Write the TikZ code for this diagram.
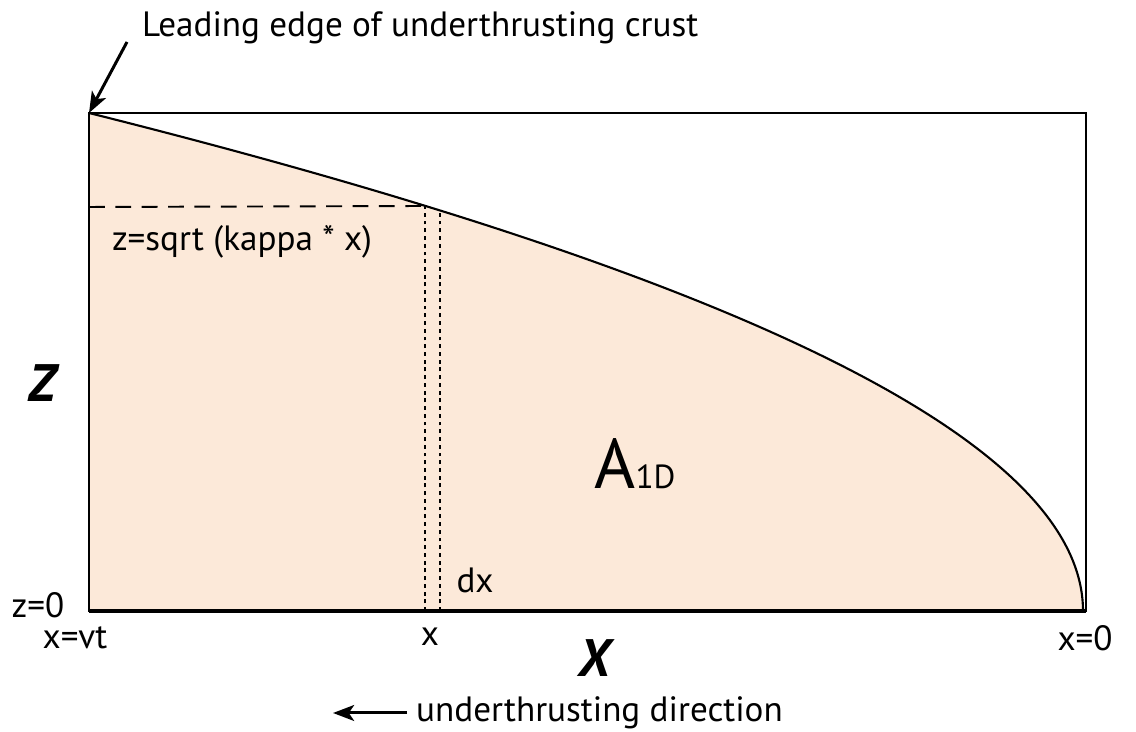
\documentclass[tikz,border=0pt]{standalone}
\usepackage{fontspec}
\setmainfont{PT Sans}
\usetikzlibrary{arrows.meta}
\definecolor{crust}{RGB}{252,233,217}

\begin{document}
\begin{tikzpicture}[x=0.02cm,y=0.02cm,>={Stealth[length=12pt,width=9pt,inset=3pt]},
                    lbl/.style={font=\fontsize{20}{22}\selectfont},
                    axis/.style={font=\fontsize{30}{32}\selectfont\bfseries\itshape},
                    edge/.style={line width=1.2pt}]
  \useasboundingbox (0,0) rectangle (1136,732);

  \coordinate (lead) at (89,619);
  \coordinate (base) at (89,121);
  \coordinate (end) at (1086,121);
  \coordinate (tail) at (127,690);

  % area under the sqrt profile
  \fill[crust] (base) -- plot[domain=1:0,samples=120] ({1083-994*\x*\x},{121+498*\x}) -- cycle;
  \draw[edge] plot[domain=1:0,samples=120] ({1083-994*\x*\x},{121+498*\x});
  \draw[line width=1pt] (base) rectangle (1086,619);
  \draw[line width=2.6pt] (base) -- (end);

  % column of width dx
  \coordinate (c1) at (425,121);
  \coordinate (c1t) at (425,526);
  \coordinate (c2) at (440,121);
  \coordinate (c2t) at (440,521.5);
  \coordinate (d1) at (89,525);
  \draw[line width=1.1pt,dash pattern=on 9pt off 6pt] (d1) -- (c1t);
  \draw[line width=1.2pt,dash pattern=on 2.2pt off 2.2pt] (c1) -- (c1t);
  \draw[line width=1.2pt,dash pattern=on 2.2pt off 2.2pt] (c2) -- (c2t);

  \node[lbl,anchor=west] (title) at (136,704) {Leading edge of underthrusting crust};
  \draw[->,line width=1.7pt] (tail) -- (lead);

  \node[lbl] (depth) at (242,490) {z=sqrt (kappa * x)};
  \node[lbl] (dx) at (475,152) {dx};
  \node[lbl] (zzero) at (38,127) {z=0};
  \node[lbl] (xvt) at (75,94) {x=vt};
  \node[lbl] (xx) at (430,95) {x};
  \node[lbl] (xzero) at (1085,94) {x=0};
  \node[axis] (zlab) at (42,349) {Z};
  \node[axis] (xlab) at (595,74) {X};
  \node (area) at (635,268) {\fontsize{40}{42}\selectfont A\fontsize{19}{21}\selectfont 1D};

  \coordinate (dirtail) at (407,19);
  \coordinate (dirtip) at (333,19);
  \draw[->,line width=1.7pt] (dirtail) -- (dirtip);
  \node[lbl,anchor=west] (dir) at (410,19) {underthrusting direction};
\end{tikzpicture}
\end{document}
